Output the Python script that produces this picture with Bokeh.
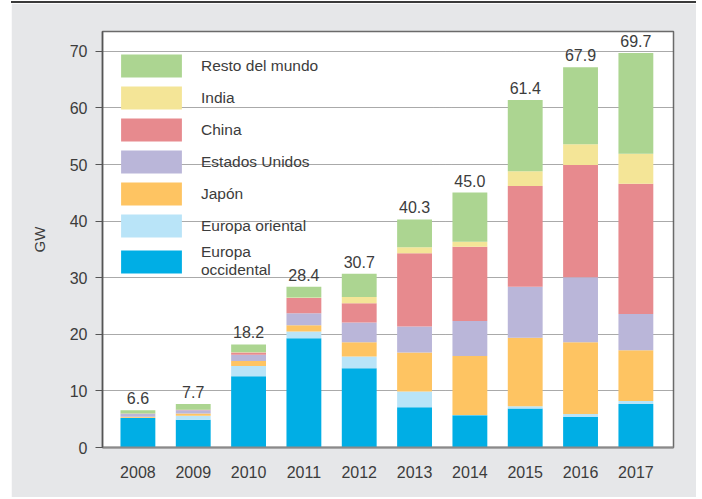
from bokeh.plotting import figure
from bokeh.models import Range1d, Legend, LegendItem, ColumnDataSource, FixedTicker
from bokeh.embed import file_html
from bokeh.resources import INLINE
from bokeh.core.properties import value

years = ["2008", "2009", "2010", "2011", "2012", "2013", "2014", "2015", "2016", "2017"]
totals = ["6.6", "7.7", "18.2", "28.4", "30.7", "40.3", "45.0", "61.4", "67.9", "69.7"]

europa_occidental = [5.2, 4.9, 12.6, 19.3, 14.0, 7.1, 5.7, 6.9, 5.4, 7.7]
europa_oriental = [0.05, 0.7, 1.8, 1.2, 2.1, 2.8, 0.05, 0.4, 0.5, 0.5]
japon = [0.2, 0.4, 0.9, 1.1, 2.5, 6.9, 10.4, 12.1, 12.7, 9.0]
estados_unidos = [0.5, 0.6, 1.1, 2.1, 3.5, 4.6, 6.2, 9.0, 11.5, 6.4]
china = [0.05, 0.05, 0.4, 2.7, 3.4, 12.9, 13.1, 17.8, 19.8, 23.0]
india = [0.0, 0.0, 0.05, 0.1, 1.1, 1.1, 0.9, 2.6, 3.7, 5.3]
resto_del_mundo = [0.6, 1.05, 1.35, 1.9, 4.1, 4.9, 8.7, 12.6, 13.6, 17.8]

series_names = ["Europa occidental", "Europa oriental", "Japón", "Estados Unidos",
                "China", "India", "Resto del mundo"]
legend_labels = ["Europa\noccidental", "Europa oriental", "Japón", "Estados Unidos",
                 "China", "India", "Resto del mundo"]
series_values = [europa_occidental, europa_oriental, japon, estados_unidos,
                 china, india, resto_del_mundo]
colors = ["#00aee5", "#b9e4f8", "#fec462", "#bab6d9", "#e78a8e", "#f4e597", "#acd591"]

FONT = "Liberation Sans"
TEXT = "#3c3c3c"
BG = "#e6e7e9"

x = list(range(len(years)))

p = figure(width=685, height=496, output_backend="svg", toolbar_location=None,
           x_range=Range1d(-0.64, 9.68), y_range=Range1d(0, 73.5),
           min_border_left=91, min_border_top=28, min_border_right=23, min_border_bottom=52)
p.styles = {"margin-left": "11px", "margin-top": "1px", "border-top": "2px solid #3a3a3a"}
p.background_fill_color = "white"
p.border_fill_color = BG
p.outline_line_color = "#6a6a6a"
p.outline_line_width = 1.5

renderers = []
bottom = [0.0] * len(years)
for name, vals, col in zip(series_names, series_values, colors):
    top = [b + v for b, v in zip(bottom, vals)]
    src = ColumnDataSource(dict(x=x, bottom=bottom, top=top))
    r = p.vbar(x="x", bottom="bottom", top="top", width=0.63, source=src,
               fill_color=col, line_color=None)
    renderers.append(r)
    bottom = top

lab_src = ColumnDataSource(dict(x=x, y=bottom, t=totals))
p.text(x="x", y="y", text="t", source=lab_src, text_align="center",
       text_baseline="bottom", y_offset=-6, text_font=value(FONT),
       text_font_size="16px", text_color=TEXT)

items = [LegendItem(label=lab, renderers=[r]) for lab, r in zip(legend_labels, renderers)]
items = items[::-1]
legend = Legend(items=items, location=(11, 168), margin=0, padding=0,
                glyph_width=76, glyph_height=29, spacing=3, label_standoff=12,
                label_text_font=FONT, label_text_font_size="15.5px",
                label_text_color=TEXT, label_height=29,
                background_fill_alpha=0, border_line_alpha=0)
p.add_layout(legend, "center")

# axes
p.xaxis.ticker = FixedTicker(ticks=x)
p.xaxis.major_label_overrides = {i: y for i, y in enumerate(years)}
p.xaxis.major_tick_line_color = None
p.xaxis.minor_tick_line_color = None
p.xaxis.axis_line_color = "#8a8a8a"
p.xaxis.axis_line_width = 2
p.xaxis.major_label_standoff = 12
p.xaxis.major_label_text_font = FONT
p.xaxis.major_label_text_font_size = "16px"
p.xaxis.major_label_text_color = TEXT

p.yaxis.ticker = FixedTicker(ticks=[0, 10, 20, 30, 40, 50, 60, 70])
p.yaxis.major_tick_out = 7
p.yaxis.major_tick_in = 0
p.yaxis.minor_tick_line_color = None
p.yaxis.major_tick_line_color = "#555555"
p.yaxis.axis_line_color = "#555555"
p.yaxis.axis_line_width = 1.5
p.yaxis.major_label_standoff = 8
p.yaxis.major_label_text_font = FONT
p.yaxis.major_label_text_font_size = "16px"
p.yaxis.major_label_text_color = TEXT
p.yaxis.axis_label = "GW"
p.yaxis.axis_label_text_font = FONT
p.yaxis.axis_label_text_font_size = "15px"
p.yaxis.axis_label_text_font_style = "normal"
p.yaxis.axis_label_text_color = TEXT
p.yaxis.axis_label_standoff = 19

p.xgrid.grid_line_color = None
p.ygrid.grid_line_color = "#555555"
p.ygrid.grid_line_dash = "1 1"
p.ygrid.grid_line_width = 1
p.ygrid.ticker = FixedTicker(ticks=[10, 20, 30, 40, 50, 60, 70])

open("out.html", "w").write(file_html(p, INLINE))
